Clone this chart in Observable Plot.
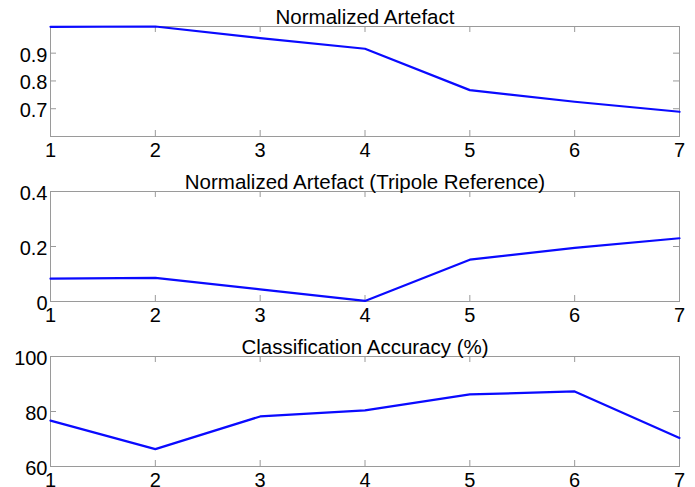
<!DOCTYPE html>
<html>
<head>
<meta charset="utf-8">
<script src="https://cdn.jsdelivr.net/npm/d3@7"></script>
<script src="https://cdn.jsdelivr.net/npm/@observablehq/plot@0.6"></script>
<style>
  html, body { margin: 0; padding: 0; background: #fff; }
  #chart svg { display: block; }
</style>
</head>
<body>
<div id="chart"></div>
<script>
const steps = [1, 2, 3, 4, 5, 6, 7];
const artefact = [0.995, 0.996, 0.954, 0.916, 0.767, 0.725, 0.689];
const artefactTripole = [0.083, 0.086, 0.044, 0.002, 0.152, 0.195, 0.23];
const accuracy = [76.7, 66.3, 78.2, 80.4, 86.2, 87.3, 70.4];

const titles = ["Normalized Artefact", "Normalized Artefact (Tripole Reference)", "Classification Accuracy (%)"];
const xTicks = [1, 2, 3, 4, 5, 6, 7];
const yTicks1 = [0.7, 0.8, 0.9];
const yTicks2 = [0, 0.2, 0.4];
const yTicks3 = [60, 80, 100];

const panels = [
  {title: titles[0], values: artefact, domain: [0.6, 0.996], ticks: yTicks1, fmt: d => d.toFixed(1), height: 160, mt: 26, mb: 24},
  {title: titles[1], values: artefactTripole, domain: [0, 0.4], ticks: yTicks2, fmt: d => d === 0 ? "0" : d.toFixed(1), height: 165, mt: 31, mb: 24},
  {title: titles[2], values: accuracy, domain: [60, 100], ticks: yTicks3, fmt: d => String(d), height: 162, mt: 31, mb: 21}
];

const gray = "#9a9a9a";
const container = document.getElementById("chart");

for (const p of panels) {
  const data = steps.map((s, i) => ({x: s, y: p.values[i]}));
  const innerH = p.height - p.mt - p.mb;
  const innerW = 695 - 50 - 16;
  const tl = 6;
  const svg = Plot.plot({
    width: 695,
    height: p.height,
    marginLeft: 50,
    marginRight: 16,
    marginTop: p.mt,
    marginBottom: p.mb,
    style: {fontFamily: "'Liberation Sans', Arial, Helvetica, sans-serif", fontSize: "20px", color: "black", background: "white", overflow: "visible"},
    x: {domain: [1, 7], label: null},
    y: {domain: p.domain, label: null},
    marks: [
      Plot.frame({stroke: gray, strokeWidth: 1}),
      Plot.tickX(xTicks, {x: d => d, stroke: gray, insetTop: innerH - tl}),
      Plot.tickX(xTicks, {x: d => d, stroke: gray, insetBottom: innerH - tl}),
      Plot.tickY(p.ticks, {y: d => d, stroke: gray, insetRight: innerW - tl}),
      Plot.tickY(p.ticks, {y: d => d, stroke: gray, insetLeft: innerW - tl}),
      Plot.axisX({ticks: xTicks, tickSize: 0, tickPadding: 6, tickFormat: d => String(d), fontSize: 20}),
      Plot.axisY({ticks: p.ticks, tickSize: 0, tickPadding: 3, tickFormat: p.fmt, fontSize: 20, dy: 2}),
      Plot.line(data, {x: "x", y: "y", stroke: "#0a0aff", strokeWidth: 2.2}),
      Plot.text([p.title], {frameAnchor: "top", lineAnchor: "bottom", dy: -3, fontSize: 20.5, text: d => d, fill: "black"})
    ]
  });
  container.appendChild(svg);
}
</script>
</body>
</html>
